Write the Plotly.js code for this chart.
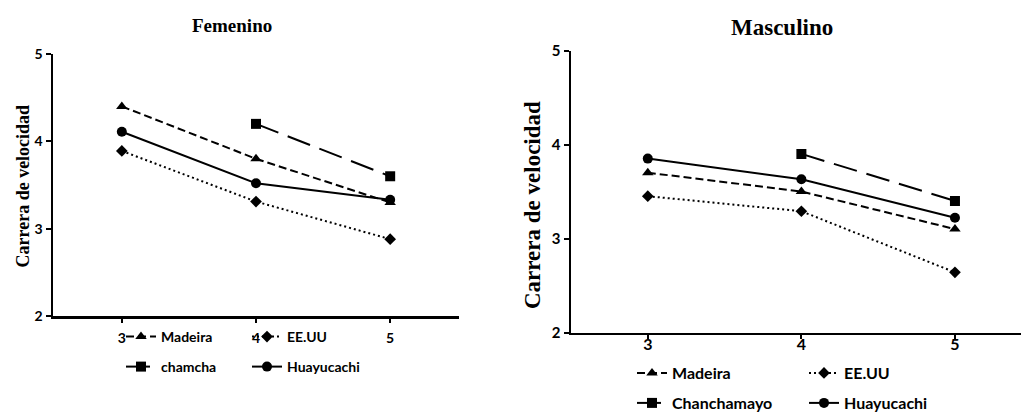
<!DOCTYPE html>
<html>
<head>
<meta charset="utf-8">
<script src="https://cdn.plot.ly/plotly-3.0.1.min.js"></script>
<style>
  html, body { margin: 0; padding: 0; background: #fff; }
  #chart { width: 1021px; height: 414px; }
</style>
</head>
<body>
<div id="chart"></div>
<script>
// ---- data ----
const grades = [3, 4, 5];
const yTicks = [2, 3, 4, 5];

// Femenino
const femMadeira = [4.4, 3.8, 3.3];
const femEEUU = [3.89, 3.31, 2.88];
const femChamcha = [null, 4.2, 3.6];
const femHuayucachi = [4.11, 3.52, 3.33];

// Masculino
const masMadeira = [3.7, 3.5, 3.1];
const masEEUU = [3.45, 3.29, 2.64];
const masChanchamayo = [null, 3.9, 3.4];
const masHuayucachi = [3.85, 3.63, 3.22];

const seriesNamesFem = ['Madeira', 'EE.UU', 'chamcha', 'Huayucachi'];
const seriesNamesMas = ['Madeira', 'EE.UU', 'Chanchamayo', 'Huayucachi'];

// ---- styles ----
const BLACK = '#000000';
const sans = 'Lato, "Open Sans", sans-serif';
const serif = '"Liberation Serif", "Times New Roman", serif';

const styles = [
  {dash: '8px,4px', symbol: 'triangle-up', size: 10},
  {dash: '2px,3px', symbol: 'diamond', size: 9},
  {dash: '24px,10px', symbol: 'square', size: 10},
  {dash: 'solid', symbol: 'circle', size: 10}
];

function mk(yvals, name, st, xa, ya, legend) {
  return {
    type: 'scatter', mode: 'lines+markers',
    x: grades, y: yvals, name: name,
    xaxis: xa, yaxis: ya, legend: legend,
    connectgaps: false,
    line: {color: BLACK, width: 2, dash: st.dash},
    marker: {color: BLACK, symbol: st.symbol, size: st.size}
  };
}

const femVals = [femMadeira, femEEUU, femChamcha, femHuayucachi];
const masVals = [masMadeira, masEEUU, masChanchamayo, masHuayucachi];

const traces = [];
femVals.forEach((v, i) => traces.push(mk(v, seriesNamesFem[i], styles[i], 'x', 'y', i < 2 ? 'legend' : 'legend2')));
masVals.forEach((v, i) => traces.push(mk(v, seriesNamesMas[i], styles[i], 'x2', 'y2', i < 2 ? 'legend3' : 'legend4')));

const W = 1021, H = 414;
const px = v => v / W;
const py = v => 1 - v / H;

function xAxis(domain, range, fs, anchor, standoff) {
  return {
    domain: domain, range: range, anchor: anchor,
    tickvals: grades, ticktext: grades.map(String),
    showline: true, linecolor: BLACK, linewidth: 2.5,
    ticks: 'outside', ticklen: 4, tickwidth: 2, tickcolor: BLACK,
    ticklabelstandoff: standoff,
    showgrid: false, zeroline: false, fixedrange: true,
    tickfont: {family: sans, size: fs, color: BLACK, weight: 700}
  };
}
function yAxis(domain, fs, anchor) {
  return {
    domain: domain, range: [2, 5], anchor: anchor,
    tickvals: yTicks, ticktext: yTicks.map(String),
    showline: true, linecolor: BLACK, linewidth: 2.5,
    ticks: 'outside', ticklen: 5, tickwidth: 2, tickcolor: BLACK,
    showgrid: false, zeroline: false, fixedrange: true,
    tickfont: {family: sans, size: fs, color: BLACK, weight: 700}
  };
}
function legendAt(x, y, fs, ew) {
  return {
    orientation: 'h', x: x, y: y, xanchor: 'left', yanchor: 'middle',
    xref: 'paper', yref: 'paper',
    bgcolor: 'rgba(0,0,0,0)', borderwidth: 0,
    entrywidth: ew, entrywidthmode: 'pixels',
    font: {family: sans, size: fs, color: BLACK, weight: 700},
    traceorder: 'normal'
  };
}

const layout = {
  width: W, height: H,
  margin: {l: 0, r: 0, t: 0, b: 0, autoexpand: false},
  paper_bgcolor: '#ffffff', plot_bgcolor: 'rgba(0,0,0,0)',
  showlegend: true,
  xaxis: xAxis([px(53), px(459)], [2.487, 5.513], 14, 'y', 4),
  yaxis: yAxis([py(316), py(54)], 14, 'x'),
  xaxis2: xAxis([px(571), 1], [2.5, 5.43], 16, 'y2', -8),
  yaxis2: yAxis([py(332.5), py(50.5)], 15, 'x2'),
  legend: legendAt(px(121), py(337), 14, 81),
  legend2: legendAt(px(121), py(367), 14, 81),
  legend3: legendAt(px(632), py(373), 16, 127),
  legend4: legendAt(px(632), py(403), 16, 127),
  annotations: [
    {text: 'Femenino', x: px(232), y: py(25), xref: 'paper', yref: 'paper',
     showarrow: false, xanchor: 'center', yanchor: 'middle',
     font: {family: serif, size: 19, color: BLACK, weight: 700}},
    {text: 'Masculino', x: px(782), y: py(28), xref: 'paper', yref: 'paper',
     showarrow: false, xanchor: 'center', yanchor: 'middle',
     font: {family: serif, size: 23, color: BLACK, weight: 700}},
    {text: 'Carrera de velocidad', x: px(22), y: py(186.5), xref: 'paper', yref: 'paper',
     showarrow: false, xanchor: 'center', yanchor: 'middle', textangle: -90,
     font: {family: serif, size: 18, color: BLACK, weight: 700}},
    {text: 'Carrera de velocidad', x: px(532), y: py(205), xref: 'paper', yref: 'paper',
     showarrow: false, xanchor: 'center', yanchor: 'middle', textangle: -90,
     font: {family: serif, size: 23, color: BLACK, weight: 700}}
  ]
};

Plotly.newPlot('chart', traces, layout, {displayModeBar: false, staticPlot: true});
</script>
</body>
</html>
